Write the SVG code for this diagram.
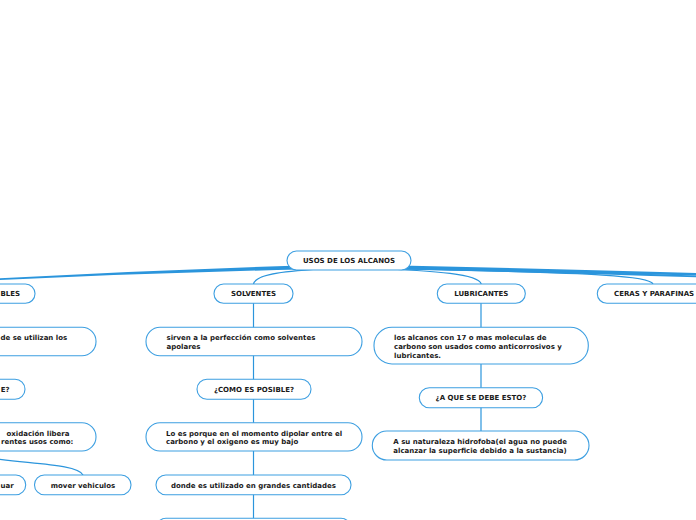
<svg xmlns="http://www.w3.org/2000/svg" width="696" height="520" viewBox="0 0 696 520">
<style>
.n{fill:#fff;stroke:#3d9fe1;stroke-width:1.1}
.t{font-family:"DejaVu Sans",Verdana,sans-serif;font-weight:bold;font-size:7px;fill:#1a1a1a}
.c{text-anchor:middle}
.e{text-anchor:end}
.l{fill:none;stroke:#2b95dc;stroke-width:1.2}
.f{fill:#2b95dc;stroke:none}
</style>
<rect width="696" height="520" fill="#fff"/>
<g id="connectors">
<path class="f" d="M300,265.5 Q150,270 0,278.3 L0,280 Q150,273 300,269.5 Z"/>
<path class="f" d="M400,265.5 Q560,269 696,273 L696,275.5 Q560,272.5 400,269.5 Z"/>
<path class="f" d="M400,266.5 Q560,270.5 696,275.6 L696,277.3 Q560,273 400,269.5 Z"/>
<path class="l" d="M335,268 C290,271 256,273 253.5,284"/>
<path class="l" d="M365,268 C440,271 478,274 481.3,284"/>
<path class="l" d="M420,269 C560,273 650,274 653,284"/>
<path class="l" d="M253.5,303 V518.5"/>
<path class="l" d="M481,303 V431"/>
<path class="l" d="M-10,458 C30,464 78,464 83,475"/>
</g>
<g id="root"><rect class="n" x="287" y="251" width="124" height="19" rx="9.5"/><text class="t c" x="349" y="263">USOS DE LOS ALCANOS</text></g>
<g id="combustibles"><rect class="n" x="-60" y="284" width="95" height="19.3" rx="9.6"/><text class="t" x="0.5" y="296.3">BLES</text></g>
<g id="l2"><rect class="n" x="-120" y="327.3" width="216" height="28.4" rx="14"/><text class="t" x="0.5" y="340.3">de se utilizan los</text></g>
<g id="l3"><rect class="n" x="-80" y="379.3" width="105" height="20" rx="10"/><text class="t" x="0.8" y="391.8">E?</text></g>
<g id="l4"><rect class="n" x="-120" y="422.7" width="216" height="28.3" rx="14"/><text class="t" x="6.5" y="435.7">oxidación libera</text><text class="t" x="1" y="444.2">rentes usos como:</text></g>
<g id="l5"><rect class="n" x="-70" y="475" width="95.7" height="19.7" rx="9.8"/><text class="t" x="0.5" y="487.5">uar</text></g>
<g id="l6"><rect class="n" x="34.5" y="475" width="96.5" height="19.7" rx="9.8"/><text class="t c" x="83" y="487.5">mover vehiculos</text></g>
<g id="solventes"><rect class="n" x="214" y="284" width="79" height="19.3" rx="9.6"/><text class="t c" x="253.5" y="296.3">SOLVENTES</text></g>
<g id="s1"><rect class="n" x="146" y="327.3" width="216" height="28.4" rx="14"/><text class="t" x="166.5" y="340.3">sirven a la perfección como solventes</text><text class="t" x="166.5" y="348.9">apolares</text></g>
<g id="s2"><rect class="n" x="197" y="379.3" width="114" height="20" rx="10"/><text class="t c" x="254" y="391.8">¿COMO ES POSIBLE?</text></g>
<g id="s3"><rect class="n" x="146" y="422.7" width="216" height="28.3" rx="14"/><text class="t" x="166" y="435.7">Lo es porque en el momento dipolar entre el</text><text class="t" x="166" y="444.2">carbono y el oxigeno es muy bajo</text></g>
<g id="s4"><rect class="n" x="156" y="475" width="195" height="19.7" rx="9.8"/><text class="t c" x="253.5" y="487.5">donde es utilizado en grandes cantidades</text></g>
<g id="s5"><rect class="n" x="156" y="518.3" width="195" height="20" rx="10"/></g>
<g id="lubricantes"><rect class="n" x="437.3" y="284" width="88" height="19.3" rx="9.6"/><text class="t c" x="481.3" y="296.3">LUBRICANTES</text></g>
<g id="r1"><rect class="n" x="374" y="327.3" width="214.3" height="36.7" rx="18"/><text class="t" x="394" y="340.3">los alcanos con 17 o mas moleculas de</text><text class="t" x="394" y="349">carbono son usados como anticorrosivos y</text><text class="t" x="394" y="357.5">lubricantes.</text></g>
<g id="r2"><rect class="n" x="419.3" y="387.7" width="123.3" height="20" rx="10"/><text class="t c" x="481" y="400.2">¿A QUE SE DEBE ESTO?</text></g>
<g id="r3"><rect class="n" x="372.3" y="431" width="216.7" height="29" rx="14.5"/><text class="t" x="393.3" y="444.2">A su naturaleza hidrofoba(el agua no puede</text><text class="t" x="393.3" y="452.8">alcanzar la superficie debido a la sustancia)</text></g>
<g id="ceras"><rect class="n" x="597.3" y="284" width="118" height="19.3" rx="9.6"/><text class="t" x="614" y="296.3">CERAS Y PARAFINAS</text></g>
</svg>
